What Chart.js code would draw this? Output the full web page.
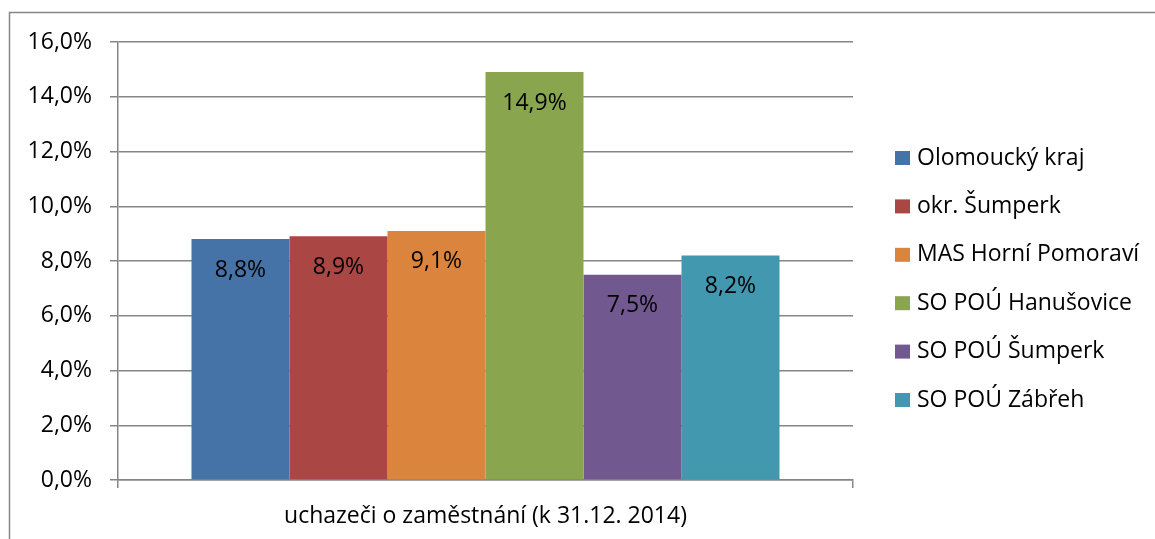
<!DOCTYPE html>
<html>
<head>
<meta charset="utf-8">
<script src="https://cdn.jsdelivr.net/npm/chart.js@4"></script>
<style>
    html, body { margin: 0; padding: 0; background: #fff; }
    #wrap { width: 1155px; height: 539px; position: relative; }
</style>
</head>
<body>
<div id="wrap"><canvas id="ucChart"></canvas></div>
<script>
const categories = ['uchazeči o zaměstnání (k 31.12. 2014)'];
const seriesNames = ['Olomoucký kraj', 'okr. Šumperk', 'MAS Horní Pomoraví', 'SO POÚ Hanušovice', 'SO POÚ Šumperk', 'SO POÚ Zábřeh'];
const seriesValues = [8.8, 8.9, 9.1, 14.9, 7.5, 8.2];
const seriesColors = ['#4572A7', '#AA4643', '#DB843D', '#89A54E', '#71588F', '#4198AF'];
const yTicks = [0, 2, 4, 6, 8, 10, 12, 14, 16];

const FONT = "'Open Sans', sans-serif";
const FSIZE = 23;
const gridColor = '#868686';

const fmt = v => v.toFixed(1).replace('.', ',') + '%';

// outer frame of the chart object (only left and top edges are visible)
const framePlugin = {
    id: 'frame',
    beforeDraw(chart) {
        const c = chart.ctx;
        c.save();
        c.strokeStyle = gridColor;
        c.lineWidth = 1.5;
        c.beginPath();
        c.moveTo(9.5, chart.height + 5);
        c.lineTo(9.5, 12.5);
        c.lineTo(chart.width + 5, 12.5);
        c.stroke();
        c.restore();
    }
};

// value labels inside the top of each bar
const valueLabels = {
    id: 'valueLabels',
    afterDatasetsDraw(chart) {
        const c = chart.ctx;
        c.save();
        c.font = FSIZE + 'px ' + FONT;
        c.fillStyle = '#000';
        c.textAlign = 'center';
        c.textBaseline = 'middle';
        chart.data.datasets.forEach((ds, i) => {
            const bar = chart.getDatasetMeta(i).data[0];
            c.fillText(fmt(ds.data[0]), bar.x, bar.y + 31);
        });
        c.restore();
    }
};

// legend on the right, drawn like the spreadsheet one
const sideLegend = {
    id: 'sideLegend',
    afterDraw(chart) {
        const c = chart.ctx;
        c.save();
        c.font = FSIZE + 'px ' + FONT;
        c.textBaseline = 'middle';
        chart.data.datasets.forEach((ds, i) => {
            const y = 158 + i * 48.4;
            c.fillStyle = ds.backgroundColor;
            c.fillRect(895, y - 7, 15, 14);
            c.fillStyle = '#000';
            c.fillText(ds.label, 917, y);
        });
        c.restore();
    }
};

const ctx = document.getElementById('ucChart').getContext('2d');
const ucChart = new Chart(ctx, {
    type: 'bar',
    data: {
        labels: categories,
        datasets: seriesNames.map((name, i) => ({
            label: name,
            data: [seriesValues[i]],
            backgroundColor: seriesColors[i],
            borderWidth: 0
        }))
    },
    options: {
        responsive: true,
        maintainAspectRatio: false,
        animation: false,
        categoryPercentage: 0.8,
        barPercentage: 1.0,
        layout: {
            padding: { left: 0, top: 42, right: 302, bottom: 0 }
        },
        scales: {
            x: {
                grid: {
                    drawOnChartArea: false,
                    drawTicks: true,
                    tickLength: 8,
                    color: gridColor,
                    lineWidth: 1.5
                },
                border: { display: true, color: gridColor, width: 1.5 },
                ticks: {
                    color: '#000',
                    padding: 15,
                    font: { family: FONT, size: FSIZE }
                },
                afterFit: s => { s.height = 59; }
            },
            y: {
                min: 0,
                max: 16,
                afterBuildTicks: s => { s.ticks = yTicks.map(v => ({ value: v })); },
                grid: {
                    color: gridColor,
                    lineWidth: 1.5,
                    tickLength: 8
                },
                border: { display: true, color: gridColor, width: 1.5 },
                ticks: {
                    color: '#000',
                    padding: 18,
                    font: { family: FONT, size: FSIZE },
                    callback: v => fmt(v)
                },
                afterFit: s => { s.width = 118; }
            }
        },
        plugins: {
            legend: { display: false },
            tooltip: { enabled: false }
        }
    },
    plugins: [framePlugin, valueLabels, sideLegend]
});
</script>
</body>
</html>
